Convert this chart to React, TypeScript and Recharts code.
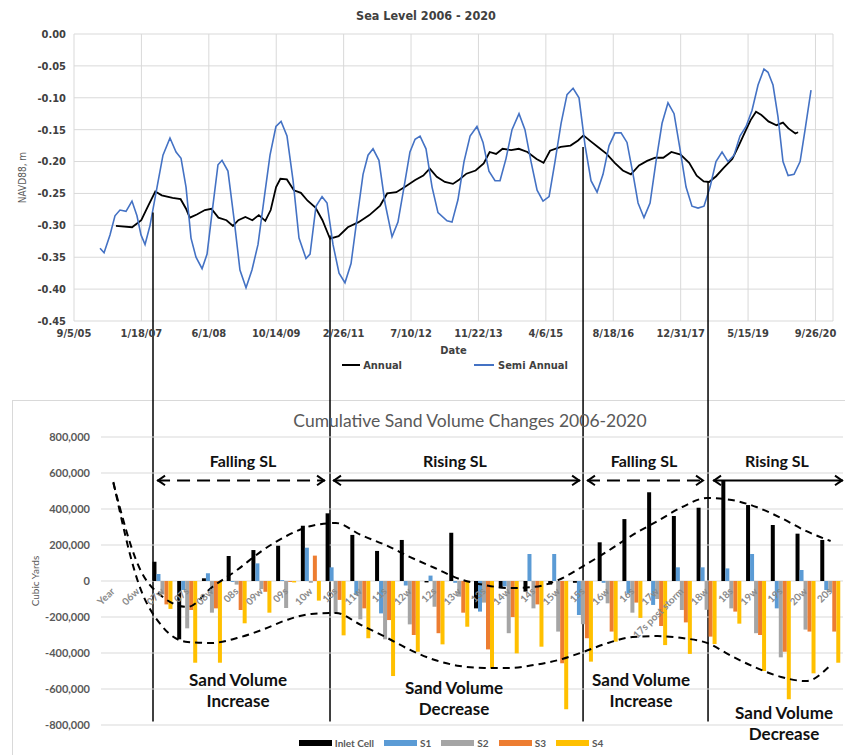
import React from "react";
import {
  LineChart,
  ComposedChart,
  Line,
  Bar,
  XAxis,
  YAxis,
  CartesianGrid,
  Legend,
  ReferenceLine,
  LabelList,
} from "recharts";

// ---- Sea level (days since 9/5/05, NAVD88 m) ----
const annualDay = [
  311, 431, 499, 551, 603, 651, 731, 791, 831, 859,
  911, 971, 1019, 1071, 1131, 1179, 1219, 1271, 1323, 1371,
  1419, 1459, 1499, 1531, 1579, 1631, 1683, 1731, 1791, 1843,
  1899, 1963, 2031, 2111, 2191, 2271, 2323, 2391, 2459, 2531,
  2591, 2639, 2691, 2751, 2811, 2859, 2911, 2979, 3039, 3083,
  3131, 3179, 3243, 3299, 3363, 3431, 3483, 3531, 3611, 3683,
  3739, 3779, 3831, 3891, 3951, 4011, 4071, 4131, 4191, 4251,
  4311, 4371, 4431, 4499, 4563, 4619, 4671, 4711, 4763, 4819,
  4883, 4931, 4983, 5019, 5059, 5099, 5151, 5211, 5259, 5299,
  5351, 5371,
];
const annualLevel = [
  -0.301, -0.303, -0.292, -0.269, -0.247, -0.253, -0.257, -0.259, -0.274, -0.288,
  -0.283, -0.276, -0.274, -0.288, -0.292, -0.301, -0.292, -0.287, -0.292, -0.284,
  -0.293, -0.276, -0.24, -0.227, -0.228, -0.245, -0.249, -0.261, -0.272, -0.292,
  -0.321, -0.317, -0.303, -0.295, -0.284, -0.269, -0.25, -0.248, -0.239, -0.229,
  -0.222, -0.211, -0.224, -0.232, -0.235, -0.228, -0.219, -0.214, -0.203, -0.185,
  -0.188, -0.18, -0.182, -0.18, -0.185, -0.196, -0.202, -0.183, -0.177, -0.175,
  -0.167, -0.159, -0.168, -0.178, -0.188, -0.202, -0.214, -0.22, -0.206, -0.199,
  -0.194, -0.194, -0.185, -0.189, -0.202, -0.222, -0.231, -0.232, -0.223, -0.21,
  -0.196, -0.175, -0.151, -0.135, -0.122, -0.127, -0.137, -0.143, -0.139, -0.148,
  -0.156, -0.154,
];
const semiDay = [
  193, 223, 267, 304, 341, 386, 430, 467, 497, 527,
  564, 616, 660, 712, 757, 794, 831, 868, 905, 950,
  987, 1024, 1068, 1098, 1142, 1187, 1231, 1276, 1320, 1365,
  1409, 1454, 1498, 1536, 1580, 1625, 1669, 1721, 1751, 1795,
  1840, 1877, 1921, 1966, 2010, 2055, 2099, 2144, 2181, 2218,
  2262, 2307, 2359, 2403, 2448, 2492, 2530, 2567, 2611, 2656,
  2700, 2767, 2804, 2848, 2893, 2938, 2989, 3034, 3078, 3123,
  3160, 3205, 3249, 3301, 3345, 3390, 3435, 3479, 3524, 3568,
  3613, 3657, 3702, 3746, 3791, 3835, 3880, 3924, 3969, 4013,
  4058, 4102, 4147, 4184, 4228, 4273, 4317, 4362, 4406, 4451,
  4495, 4540, 4584, 4629, 4673, 4718, 4762, 4807, 4851, 4896,
  4940, 4985, 5029, 5074, 5118, 5148, 5185, 5222, 5259, 5297,
  5341, 5386, 5423, 5467,
];
const semiLevel = [
  -0.336, -0.343, -0.315, -0.285, -0.276, -0.278, -0.262, -0.285, -0.315, -0.33,
  -0.3, -0.24, -0.19, -0.163, -0.185, -0.195, -0.24, -0.32, -0.35, -0.368,
  -0.345, -0.28, -0.205, -0.198, -0.215, -0.29, -0.37, -0.398, -0.37, -0.33,
  -0.26, -0.19, -0.145, -0.137, -0.16, -0.23, -0.32, -0.352, -0.345, -0.27,
  -0.255, -0.265, -0.33, -0.375, -0.39, -0.36, -0.29, -0.22, -0.19, -0.18,
  -0.198, -0.265, -0.318, -0.295, -0.24, -0.185, -0.165, -0.16, -0.18, -0.24,
  -0.28, -0.293, -0.295, -0.26, -0.2, -0.16, -0.145, -0.17, -0.215, -0.23,
  -0.23, -0.195, -0.15, -0.125, -0.15, -0.2, -0.245, -0.262, -0.255, -0.2,
  -0.14, -0.095, -0.085, -0.1, -0.175, -0.23, -0.248, -0.22, -0.175, -0.155,
  -0.155, -0.17, -0.22, -0.265, -0.288, -0.265, -0.2, -0.14, -0.108, -0.125,
  -0.18, -0.24, -0.27, -0.273, -0.27, -0.24, -0.2, -0.185, -0.2, -0.19,
  -0.16, -0.145, -0.12, -0.08, -0.055, -0.06, -0.08, -0.13, -0.2, -0.222,
  -0.22, -0.2, -0.15, -0.088,
];
const dateTicks = [0, 500, 1000, 1500, 2000, 2500, 3000, 3500, 4000, 4500, 5000, 5500];
const levelTicks = [0, -0.05, -0.1, -0.15, -0.2, -0.25, -0.3, -0.35, -0.4, -0.45];

// ---- Cumulative sand volume (cubic yards) ----
const categories = [
  "Year", "06w", "07w", "07s", "08w", "08s", "09w", "09s", "10w", "10s",
  "11w", "11s", "12w", "12s", "13w", "13s", "14w", "14s", "15w", "15s",
  "16w", "16s", "17w", "17s post storm", "18w", "18s", "19w", "19s", "20w", "20s",
];
const inletCell = [
  null, null, 107000, -324000, 15000, 139000, 172000, 196000, 307000, 376000,
  256000, 167000, 228000, -8000, 268000, -152000, -40000, -59000, -20000, -10000,
  215000, 344000, 493000, 361000, 407000, 561000, 422000, 311000, 263000, 228000,
];
const s1 = [
  null, null, 39000, -50000, 43000, -5000, 98000, 5000, 185000, 76000,
  -78000, -180000, -25000, 30000, -10000, -170000, -30000, 150000, 150000, -189000,
  -10000, -69000, -133000, 76000, 76000, 70000, 150000, -152000, 61000, -50000,
];
const s2 = [
  null, null, -75000, -263000, -176000, -20000, -45000, -150000, -10000, -180000,
  -213000, -324000, -241000, -143000, -87000, -120000, -290000, -152000, -281000, -240000,
  -124000, -176000, -100000, -161000, -160000, -152000, -290000, -424000, -270000, -60000,
];
const s3 = [
  null, null, -130000, -161000, -152000, -161000, -60000, -5000, 141000, -105000,
  -152000, -217000, -300000, -290000, -176000, -380000, -200000, -130000, -457000, -318000,
  -281000, -120000, -250000, -230000, -309000, -170000, -300000, -393000, -281000, -281000,
];
const s4 = [
  null, null, -155000, -454000, -454000, -235000, -176000, -8000, -109000, -302000,
  -318000, -528000, -393000, -352000, -254000, -485000, -402000, -365000, -713000, -448000,
  -337000, -205000, -356000, -405000, -350000, -237000, -500000, -657000, -513000, -454000,
];
const upperTrend = [
  544000, 89000, -89000, -144000, -33000, 61000, 167000, 250000, 306000, 322000,
  256000, 200000, 133000, 72000, 11000, -22000, -39000, -33000, 6000, 83000,
  167000, 256000, 333000, 411000, 461000, 450000, 411000, 350000, 278000, 222000,
];
const lowerTrend = [
  550000, -6000, -256000, -339000, -344000, -317000, -272000, -217000, -183000, -178000,
  -244000, -311000, -383000, -439000, -472000, -483000, -483000, -467000, -439000, -394000,
  -344000, -311000, -306000, -317000, -344000, -417000, -483000, -533000, -556000, -467000,
];
const volumeTicks = [800000, 600000, 400000, 200000, 0, -200000, -400000, -600000, -800000];

// sea level turning points (days) and the periods between them
const turnDays = [586, 1899, 3776, 4703];
const turnTops = [-0.28, -0.316, -0.177, -0.232];
const arrowSpans = [
  { from: 616, to: 1862, dashed: true, left: true, right: true },
  { from: 1921, to: 3754, dashed: false, left: true, right: true },
  { from: 3805, to: 4673, dashed: true, left: true, right: true },
  { from: 4740, to: 5704, dashed: false, left: true, right: true },
];
// the drop lines and arrows sit in the lower panel, expressed on the upper chart's level scale
const arrowLevel = -0.7;
const dropLevel = -1.078;

const NARROW = "'Liberation Sans Narrow', 'DejaVu Sans Condensed', 'Liberation Sans', Arial, sans-serif";
const BODY = "Lato, 'Open Sans', sans-serif";

const baseDate = Date.UTC(2005, 8, 5);
const formatDay = (d: number) => {
  const dt = new Date(baseDate + d * 86400000);
  return `${dt.getUTCMonth() + 1}/${dt.getUTCDate()}/${String(dt.getUTCFullYear()).slice(2)}`;
};

const annualData = annualDay.map((day, i) => ({ day, value: annualLevel[i] }));
const semiData = semiDay.map((day, i) => ({ day, value: semiLevel[i] }));

const sandData = categories.map((name, i) => ({
  name,
  inlet: inletCell[i],
  s1: s1[i],
  s2: s2[i],
  s3: s3[i],
  s4: s4[i],
  upper: upperTrend[i],
  lower: lowerTrend[i],
  zero: 0,
}));

const sandSeries = [
  { key: "inlet", name: "Inlet Cell", color: "#000000" },
  { key: "s1", name: "S1", color: "#5b9bd5" },
  { key: "s2", name: "S2", color: "#a5a5a5" },
  { key: "s3", name: "S3", color: "#ed7d31" },
  { key: "s4", name: "S4", color: "#ffc000" },
];

const arrowShape = (dashed: boolean, left: boolean, right: boolean) => (p: any) => {
  const { x1, y1, x2, y2 } = p;
  const h = 8;
  return (
    <g>
      <line x1={x1} y1={y1} x2={x2} y2={y2} stroke="#000" strokeWidth={2} strokeDasharray={dashed ? "13 7" : undefined} />
      {left && (
        <polyline points={`${x1 + h},${y1 - h * 0.6} ${x1 + 1},${y1} ${x1 + h},${y1 + h * 0.6}`} fill="none" stroke="#000" strokeWidth={2} />
      )}
      {right && (
        <polyline points={`${x2 - h},${y2 - h * 0.6} ${x2 - 1},${y2} ${x2 - h},${y2 + h * 0.6}`} fill="none" stroke="#000" strokeWidth={2} />
      )}
    </g>
  );
};

const renderCategory = (props: any) => {
  const { x, y, value } = props;
  const tx = x + 2;
  const ty = y + 11;
  return (
    <text x={tx} y={ty} transform={`rotate(-45 ${tx} ${ty})`} textAnchor="end" fontSize={10} fontWeight={700} fill="#8a8a8a" fontFamily={BODY}>
      {value}
    </text>
  );
};

const SeaLegend = () => (
  <div style={{ display: "flex", justifyContent: "center", alignItems: "center", paddingLeft: 65, height: 20, fontFamily: NARROW, fontSize: 11, fontWeight: 700, color: "#404040" }}>
    <span style={{ display: "inline-block", width: 18, height: 2, background: "#000", marginRight: 3 }} />
    <span style={{ marginRight: 72 }}>Annual</span>
    <span style={{ display: "inline-block", width: 20, height: 2, background: "#4472c4", marginRight: 4 }} />
    <span>Semi Annual</span>
  </div>
);

const SandLegend = () => (
  <div style={{ display: "flex", justifyContent: "center", alignItems: "center", paddingLeft: 67, paddingTop: 11, boxSizing: "border-box", height: 25, fontFamily: BODY, fontSize: 10, fontWeight: 700, color: "#595959" }}>
    {sandSeries.map((s) => (
      <span key={s.key} style={{ display: "inline-flex", alignItems: "center", marginRight: 10 }}>
        <span style={{ display: "inline-block", width: 33, height: 6, background: s.color, marginRight: 3 }} />
        {s.name}
      </span>
    ))}
  </div>
);

const notes = [
  { lines: ["Falling SL"], x: 243, y: 460, size: 16 },
  { lines: ["Rising SL"], x: 455, y: 460, size: 16 },
  { lines: ["Falling SL"], x: 644, y: 460, size: 16 },
  { lines: ["Rising SL"], x: 777, y: 460, size: 16 },
  { lines: ["Sand Volume", "Increase"], x: 238, y: 690, size: 17 },
  { lines: ["Sand Volume", "Decrease"], x: 454, y: 698, size: 17 },
  { lines: ["Sand Volume", "Increase"], x: 641, y: 690, size: 17 },
  { lines: ["Sand Volume", "Decrease"], x: 784, y: 723, size: 17 },
];

export default function App() {
  return (
    <div style={{ position: "relative", width: 845, height: 755, background: "#fff", overflow: "hidden" }}>
      <style>{"body{margin:0} .recharts-surface{overflow:visible}"}</style>

      <div style={{ position: "absolute", left: 12, top: 400, width: 840, height: 360, borderLeft: "1px solid #d9d9d9", borderTop: "1px solid #d9d9d9" }} />

      <div style={{ position: "absolute", left: 0, top: 0 }}>
        <LineChart width={845} height={380} margin={{ top: 34, right: 12, bottom: 5, left: 0 }}>
          <CartesianGrid stroke="#d9d9d9" />
          <XAxis
            dataKey="day"
            type="number"
            domain={[0, 5630]}
            ticks={dateTicks}
            tickFormatter={formatDay}
            tickLine={false}
            axisLine={false}
            height={34}
            tick={{ fontSize: 11, fontWeight: 700, fill: "#404040", fontFamily: NARROW }}
            label={{ value: "Date", position: "insideBottom", offset: 1, fill: "#404040", fontSize: 11, fontWeight: 700, fontFamily: NARROW }}
          />
          <YAxis
            type="number"
            domain={[-0.45, 0]}
            ticks={levelTicks}
            width={74}
            tickFormatter={(v: number) => v.toFixed(2)}
            tickLine={false}
            axisLine={false}
            tick={{ fontSize: 11, fontWeight: 700, fill: "#404040", fontFamily: NARROW }}
            label={{ value: "NAVD88, m", angle: -90, position: "insideLeft", offset: 22, fill: "#595959", fontSize: 10, fontFamily: NARROW, style: { textAnchor: "middle" } }}
          />
          <Legend verticalAlign="bottom" height={20} wrapperStyle={{ left: 0, width: 845 }} content={() => <SeaLegend />} />
          <Line data={annualData} dataKey="value" name="Annual" stroke="#000000" strokeWidth={1.8} dot={false} isAnimationActive={false} />
          <Line data={semiData} dataKey="value" name="Semi Annual" stroke="#4472c4" strokeWidth={1.6} dot={false} isAnimationActive={false} />
          {turnDays.map((d, i) => (
            <ReferenceLine
              key={`drop-${d}`}
              segment={[{ x: d, y: turnTops[i] }, { x: d, y: dropLevel }]}
              stroke="#000"
              strokeWidth={1.5}
              ifOverflow="visible"
            />
          ))}
          {arrowSpans.map((a) => (
            <ReferenceLine
              key={`arrow-${a.from}`}
              segment={[{ x: a.from, y: arrowLevel }, { x: a.to, y: arrowLevel }]}
              ifOverflow="visible"
              shape={arrowShape(a.dashed, a.left, a.right)}
            />
          ))}
        </LineChart>
      </div>

      <div style={{ position: "absolute", left: 0, top: 395 }}>
        <ComposedChart width={845} height={360} data={sandData} margin={{ top: 42, right: 2, bottom: 5, left: 41 }} barGap={0} barSize={4}>
          <CartesianGrid stroke="#d9d9d9" vertical={false} />
          <XAxis dataKey="name" hide />
          <YAxis
            domain={[-800000, 800000]}
            ticks={volumeTicks}
            width={60}
            tickLine={false}
            axisLine={false}
            tickMargin={5}
            tickFormatter={(v: number) => v.toLocaleString("en-US")}
            tick={{ fontSize: 11, fontWeight: 700, fill: "#595959", fontFamily: BODY }}
            label={{ value: "Cubic Yards", angle: -90, position: "insideLeft", offset: -6, fill: "#595959", fontSize: 10, fontFamily: BODY, style: { textAnchor: "middle" } }}
          />
          <Legend verticalAlign="bottom" height={25} wrapperStyle={{ left: 0, width: 845 }} content={() => <SandLegend />} />
          {sandSeries.map((s) => (
            <Bar key={s.key} dataKey={s.key} name={s.name} fill={s.color} isAnimationActive={false} />
          ))}
          <Line dataKey="upper" type="monotone" stroke="#000" strokeWidth={2} strokeDasharray="7 5" dot={false} activeDot={false} isAnimationActive={false} />
          <Line dataKey="lower" type="monotone" stroke="#000" strokeWidth={2} strokeDasharray="7 5" dot={false} activeDot={false} isAnimationActive={false} />
          <Line dataKey="zero" stroke="none" dot={false} activeDot={false} isAnimationActive={false}>
            <LabelList dataKey="name" content={renderCategory} />
          </Line>
        </ComposedChart>
      </div>

      <div style={{ position: "absolute", left: 426, top: 15, transform: "translate(-50%, -50%)", fontFamily: NARROW, fontSize: 12.5, fontWeight: 700, color: "#404040", whiteSpace: "nowrap" }}>
        Sea Level 2006 - 2020
      </div>
      <div style={{ position: "absolute", left: 470, top: 420, transform: "translate(-50%, -50%)", fontFamily: BODY, fontSize: 17.5, color: "#595959", whiteSpace: "nowrap" }}>
        Cumulative Sand Volume Changes 2006-2020
      </div>
      {notes.map((n, i) => (
        <div
          key={i}
          style={{ position: "absolute", left: n.x, top: n.y, transform: "translate(-50%, -50%)", fontFamily: BODY, fontSize: n.size, fontWeight: 700, color: "#111", textAlign: "center", lineHeight: "21px", whiteSpace: "nowrap" }}
        >
          {n.lines.map((l) => (
            <div key={l}>{l}</div>
          ))}
        </div>
      ))}
    </div>
  );
}
